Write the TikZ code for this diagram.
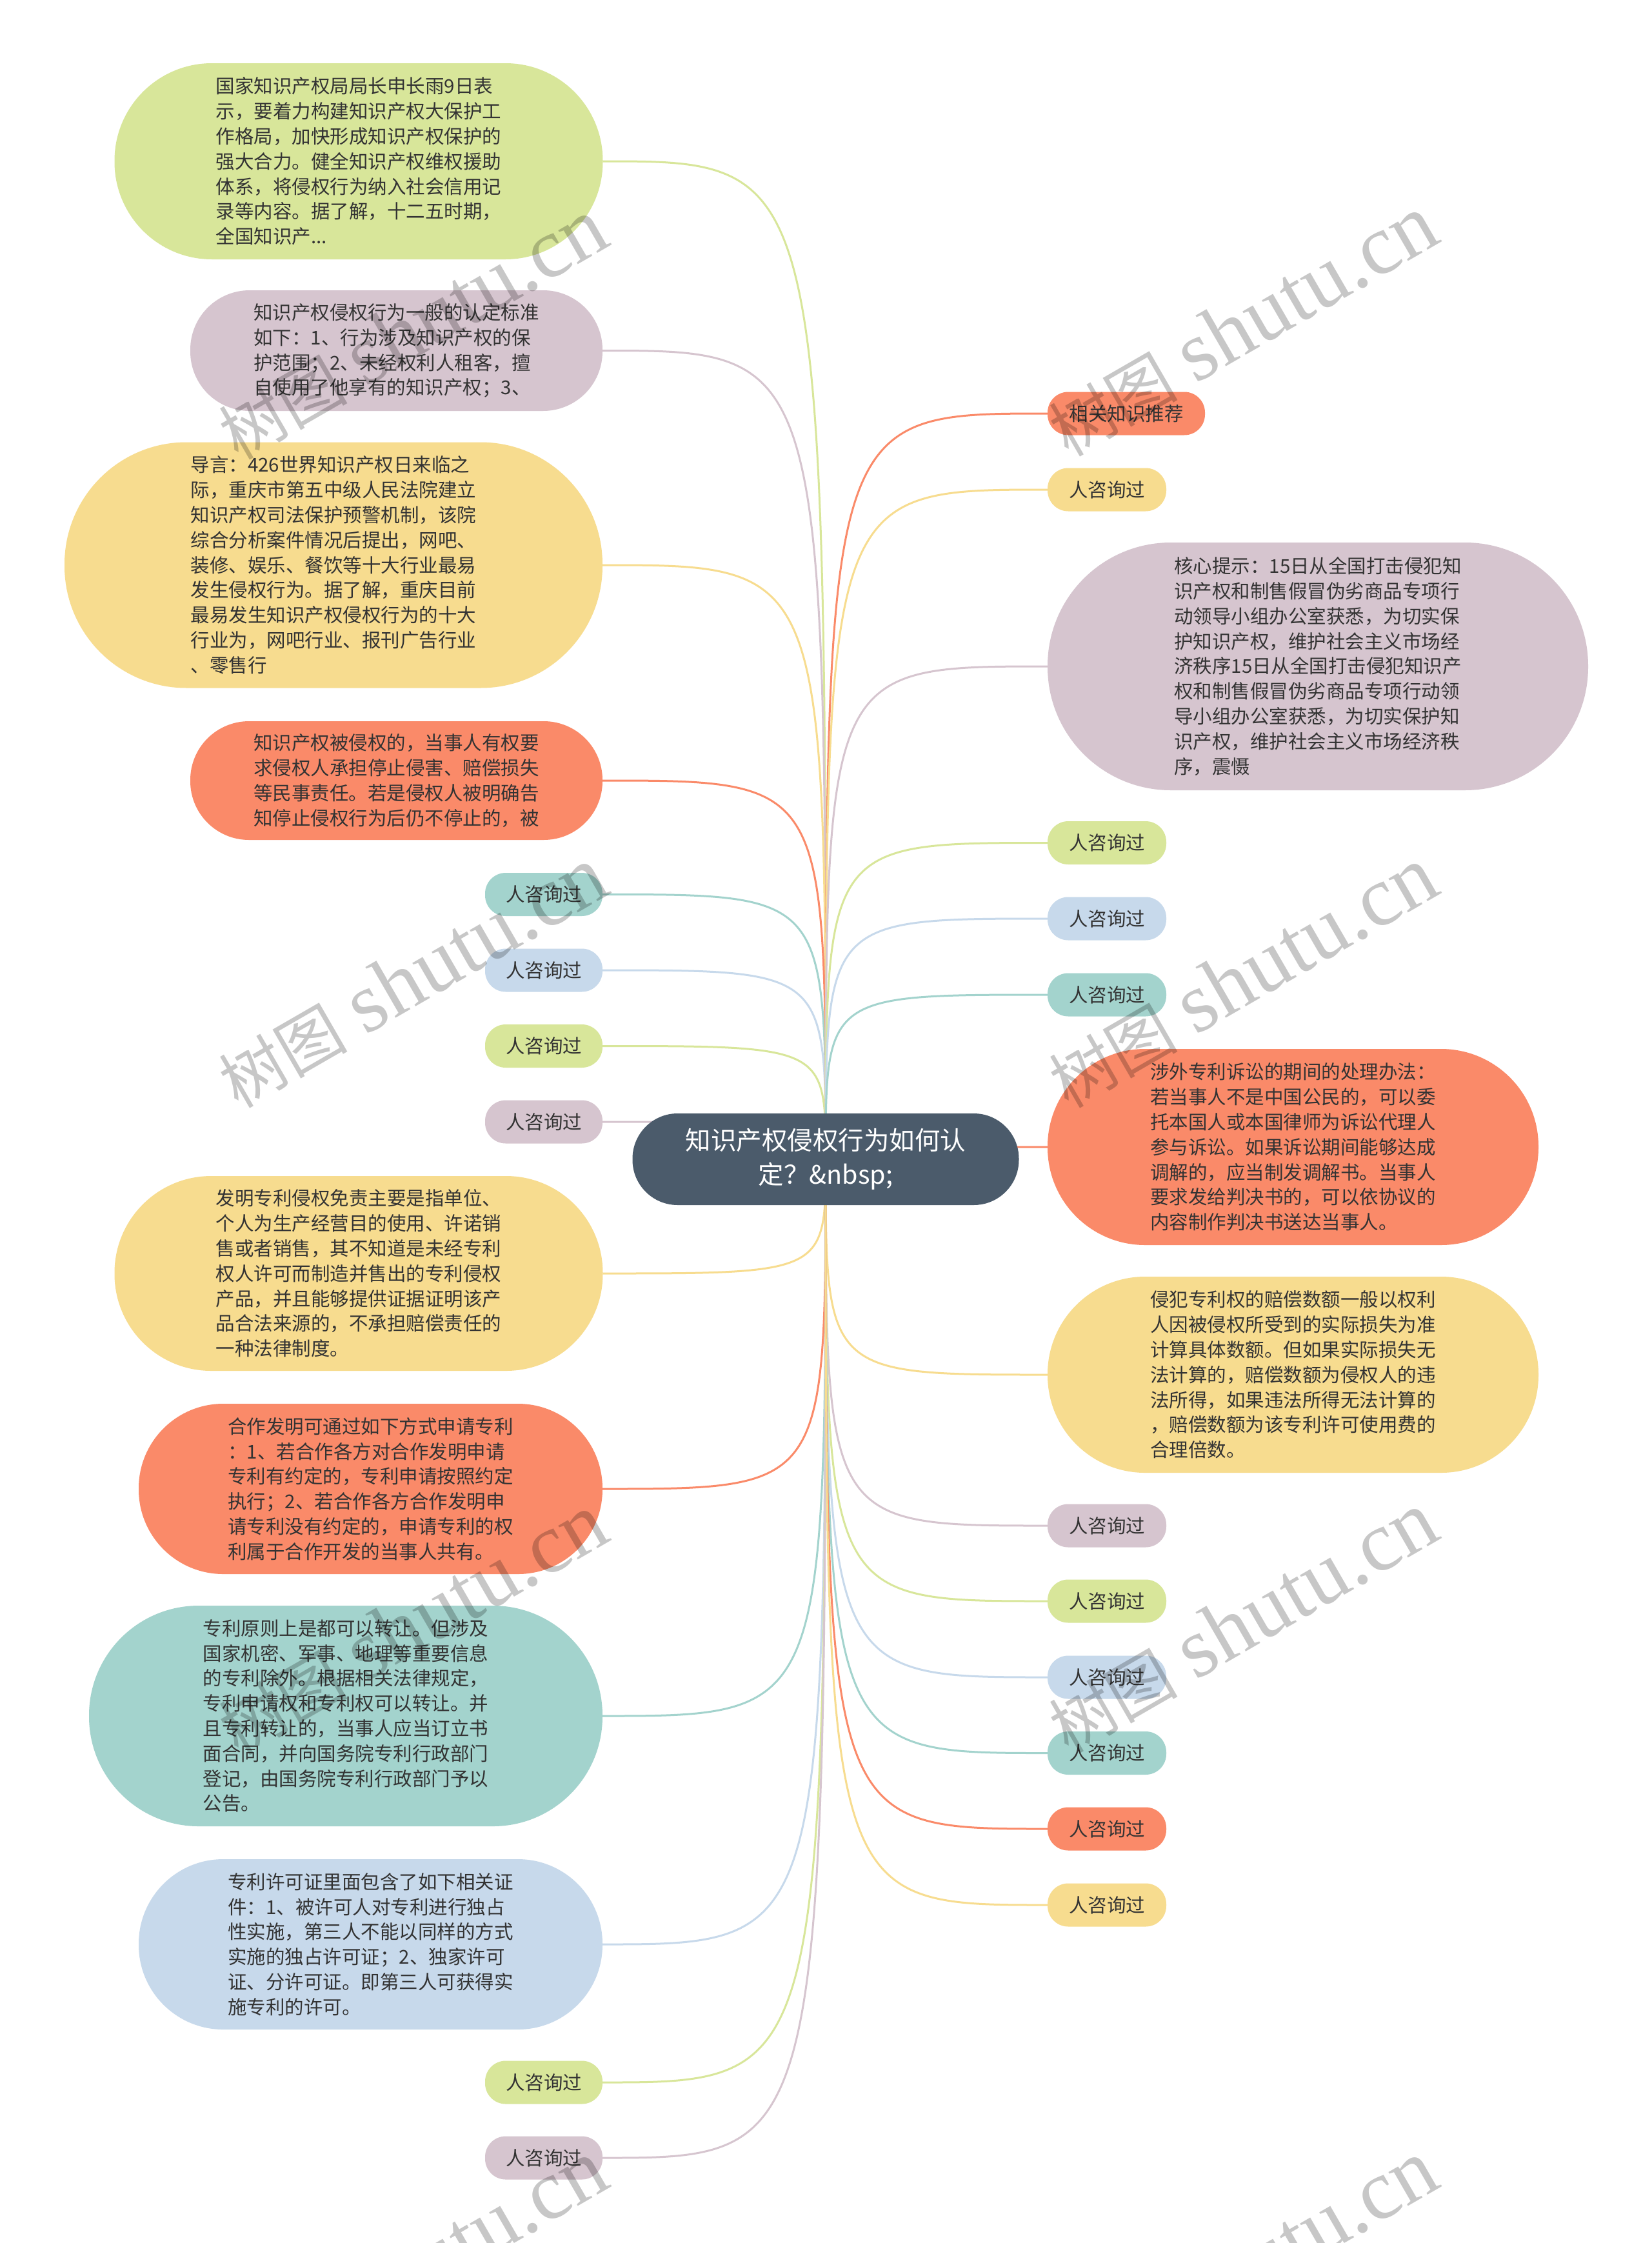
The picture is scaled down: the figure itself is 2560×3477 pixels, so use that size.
\documentclass[tikz,border=0pt]{standalone}
\usepackage{fontspec}
\newfontfamily\cjk{Noto Sans CJK SC}
\newfontfamily\wmserif{Liberation Serif}
\usetikzlibrary{backgrounds}
\definecolor{cgreen}{HTML}{D8E69A}
\definecolor{cmauve}{HTML}{D6C5CF}
\definecolor{cyellow}{HTML}{F7DC8F}
\definecolor{corange}{HTML}{FA8A69}
\definecolor{cteal}{HTML}{A3D3CD}
\definecolor{cblue}{HTML}{C7D9EB}
\definecolor{croot}{HTML}{4B5B6B}
\definecolor{ctext}{HTML}{333333}
\newcommand\bodyfnt{\cjk\fontsize{29.5}{38.8}\selectfont\lineskiplimit=-1000pt\relax}
\newcommand\rootfnt{\cjk\fontsize{39.5}{53}\selectfont\lineskiplimit=-1000pt\relax}
\tikzset{
  box/.style n args={4}{fill=#1, minimum width=#2pt, minimum height=#3pt, rounded corners=#4pt, inner sep=0pt, align=left, text=ctext, font=\bodyfnt},
  sm/.style={fill=#1, minimum width=184pt, minimum height=67pt, rounded corners=32pt, inner sep=0pt, text=ctext, font=\bodyfnt},
  edge/.style={line width=3pt},
  wm/.style={rotate=30, text=black, text opacity=0.22, inner sep=0pt}
}
\begin{document}
\begin{tikzpicture}[x=1pt,y=-1pt]
\useasboundingbox (0,0) rectangle (2560,3477);

% root
\node[fill=croot, minimum width=599pt, minimum height=142pt, rounded corners=70pt, text=white, font=\rootfnt, align=center, inner sep=0pt] (root) at (1280,1797) {知识产权侵权行为如何认\\定？\&nbsp;};

% left side
\node[box={cgreen}{757}{304}{151}] (L1) at (556,250) {国家知识产权局局长申长雨9日表\\示，要着力构建知识产权大保护工\\作格局，加快形成知识产权保护的\\强大合力。健全知识产权维权援助\\体系，将侵权行为纳入社会信用记\\录等内容。据了解，十二五时期，\\全国知识产...};
\node[box={cmauve}{639}{187}{92}] (L2) at (614.5,543.5) {知识产权侵权行为一般的认定标准\\如下：1、行为涉及知识产权的保\\护范围；2、未经权利人租客，擅\\自使用了他享有的知识产权；3、};
\node[box={cyellow}{834}{381}{189}] (L3) at (517,876) {导言：426世界知识产权日来临之\\际，重庆市第五中级人民法院建立\\知识产权司法保护预警机制，该院\\综合分析案件情况后提出，网吧、\\装修、娱乐、餐饮等十大行业最易\\发生侵权行为。据了解，重庆目前\\最易发生知识产权侵权行为的十大\\行业为，网吧行业、报刊广告行业\\、零售行};
\node[box={corange}{639}{184}{91}] (L4) at (614.5,1210) {知识产权被侵权的，当事人有权要\\求侵权人承担停止侵害、赔偿损失\\等民事责任。若是侵权人被明确告\\知停止侵权行为后仍不停止的，被};
\node[sm=cteal, minimum width=182pt] (L5) at (843,1386.5) {人咨询过};
\node[sm=cblue, minimum width=182pt] (L6) at (843,1504) {人咨询过};
\node[sm=cgreen, minimum width=182pt] (L7) at (843,1621.5) {人咨询过};
\node[sm=cmauve, minimum width=182pt] (L8) at (843,1739) {人咨询过};
\node[box={cyellow}{757}{302}{150}] (L9) at (556,1974) {发明专利侵权免责主要是指单位、\\个人为生产经营目的使用、许诺销\\售或者销售，其不知道是未经专利\\权人许可而制造并售出的专利侵权\\产品，并且能够提供证据证明该产\\品合法来源的，不承担赔偿责任的\\一种法律制度。};
\node[box={corange}{719}{264}{131}] (L10) at (574.5,2308) {合作发明可通过如下方式申请专利\\：1、若合作各方对合作发明申请\\专利有约定的，专利申请按照约定\\执行；2、若合作各方合作发明申\\请专利没有约定的，申请专利的权\\利属于合作开发的当事人共有。};
\node[box={cteal}{796}{342}{170}] (L11) at (536,2660) {专利原则上是都可以转让。但涉及\\国家机密、军事、地理等重要信息\\的专利除外。根据相关法律规定，\\专利申请权和专利权可以转让。并\\且专利转让的，当事人应当订立书\\面合同，并向国务院专利行政部门\\登记，由国务院专利行政部门予以\\公告。};
\node[box={cblue}{719}{264}{131}] (L12) at (574.5,3014) {专利许可证里面包含了如下相关证\\件：1、被许可人对专利进行独占\\性实施，第三人不能以同样的方式\\实施的独占许可证；2、独家许可\\证、分许可证。即第三人可获得实\\施专利的许可。};
\node[sm=cgreen, minimum width=182pt] (L13) at (843,3228) {人咨询过};
\node[sm=cmauve, minimum width=182pt] (L14) at (843,3345) {人咨询过};

% right side
\node[sm=corange, minimum width=244pt] (R1) at (1746,641) {相关知识推荐};
\node[sm=cyellow] (R2) at (1716,759) {人咨询过};
\node[box={cmauve}{838}{384}{191}] (R3) at (2043,1033) {核心提示：15日从全国打击侵犯知\\识产权和制售假冒伪劣商品专项行\\动领导小组办公室获悉，为切实保\\护知识产权，维护社会主义市场经\\济秩序15日从全国打击侵犯知识产\\权和制售假冒伪劣商品专项行动领\\导小组办公室获悉，为切实保护知\\识产权，维护社会主义市场经济秩\\序，震慑};
\node[sm=cgreen] (R4) at (1716,1306.5) {人咨询过};
\node[sm=cblue] (R5) at (1716,1424) {人咨询过};
\node[sm=cteal] (R6) at (1716,1542) {人咨询过};
\node[box={corange}{761}{304}{151}] (R7) at (2004.5,1778) {涉外专利诉讼的期间的处理办法：\\若当事人不是中国公民的，可以委\\托本国人或本国律师为诉讼代理人\\参与诉讼。如果诉讼期间能够达成\\调解的，应当制发调解书。当事人\\要求发给判决书的，可以依协议的\\内容制作判决书送达当事人。};
\node[box={cyellow}{761}{304}{151}] (R8) at (2004.5,2131) {侵犯专利权的赔偿数额一般以权利\\人因被侵权所受到的实际损失为准\\计算具体数额。但如果实际损失无\\法计算的，赔偿数额为侵权人的违\\法所得，如果违法所得无法计算的\\，赔偿数额为该专利许可使用费的\\合理倍数。};
\node[sm=cmauve] (R9) at (1716,2365) {人咨询过};
\node[sm=cgreen] (R10) at (1716,2482) {人咨询过};
\node[sm=cblue] (R11) at (1716,2600) {人咨询过};
\node[sm=cteal] (R12) at (1716,2717.5) {人咨询过};
\node[sm=corange] (R13) at (1716,2835) {人咨询过};
\node[sm=cyellow] (R14) at (1716,2953) {人咨询过};

\begin{scope}[on background layer]
\fill[white] (0,0) rectangle (2560,3477);
\foreach \n/\c in {L1/cgreen,L2/cmauve,L3/cyellow,L4/corange,L5/cteal,L6/cblue,L7/cgreen,L8/cmauve,L9/cyellow,L10/corange,L11/cteal,L12/cblue,L13/cgreen,L14/cmauve}
  \draw[edge, draw=\c] (root.center) .. controls (root.center |- \n.east) .. (\n.east);
\foreach \n/\c in {R1/corange,R2/cyellow,R3/cmauve,R4/cgreen,R5/cblue,R6/cteal,R7/corange,R8/cyellow,R9/cmauve,R10/cgreen,R11/cblue,R12/cteal,R13/corange,R14/cyellow}
  \draw[edge, draw=\c] (root.center) .. controls (root.center |- \n.west) .. (\n.west);
\end{scope}

% watermarks
\begin{scope}
\clip (0,0) rectangle (2560,3477);
\foreach \wx/\wy [count=\i] in {639/510,1926/505,639/1515,1926/1515,639/2518,1926/2515,639/3520,1926/3520}
  \node[wm] (wm\i) at (\wx,\wy) {{\cjk\fontsize{100}{105}\selectfont 树图}\hspace{28pt}{\wmserif\fontsize{132}{136}\selectfont shutu.cn}};
\end{scope}
\end{tikzpicture}
\end{document}
